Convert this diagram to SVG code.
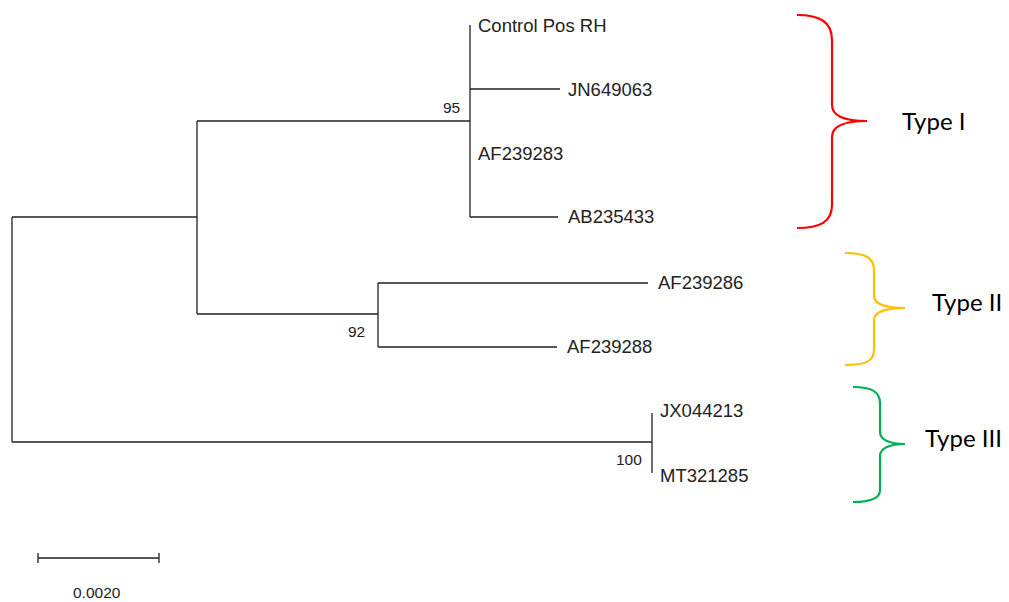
<svg xmlns="http://www.w3.org/2000/svg" width="1009" height="602" viewBox="0 0 1009 602">
<style>
.br{fill:none;stroke:#222;stroke-width:1.3}
.lb{font-family:"Liberation Sans",Arial,sans-serif;font-size:18.5px;fill:#222}
.bs{font-family:"Liberation Sans",Arial,sans-serif;font-size:15.5px;fill:#222}
.brace{fill:none;stroke-width:2.2}
.ty{font-family:Lato,"Open Sans",sans-serif;font-size:24px;fill:#000}
</style>
<rect width="1009" height="602" fill="#fff"/>
<g id="connectors">
<path class="br" d="M12,217 V442 M12,217 H197 M12,442 H652 M197,121 V314 M197,121 H470 M197,314 H378 M470,25 V217 M470,89 H560 M470,217 H558 M378,283 V347 M378,283 H648 M378,347 H557 M652,413 V473"/>
</g>
<g id="n-control"><text class="lb" x="478" y="32">Control Pos RH</text></g>
<g id="n-jn649063"><text class="lb" x="568" y="96">JN649063</text></g>
<g id="n-af239283"><text class="lb" x="478" y="160">AF239283</text></g>
<g id="n-ab235433"><text class="lb" x="568" y="223">AB235433</text></g>
<g id="n-af239286"><text class="lb" x="658" y="289">AF239286</text></g>
<g id="n-af239288"><text class="lb" x="567" y="353">AF239288</text></g>
<g id="n-jx044213"><text class="lb" x="660" y="417">JX044213</text></g>
<g id="n-mt321285"><text class="lb" x="660" y="482">MT321285</text></g>
<g id="bootstrap">
<text class="bs" x="443" y="113">95</text>
<text class="bs" x="348" y="337">92</text>
<text class="bs" x="616" y="465">100</text>
</g>
<g id="scalebar">
<path class="br" d="M38,558 H159 M38,553 V563 M159,553 V563"/>
<text class="bs" x="73" y="598">0.0020</text>
</g>
<g id="type1">
<path class="brace" stroke="#ff0000" d="M797,15 C820,15 832,22 832,40 L832,105 C832,116 845,121 867,121 C845,121 832,126 832,137 L832,205 C832,222 820,228 797,228"/>
<text class="ty" x="902" y="130">Type I</text>
</g>
<g id="type2">
<path class="brace" stroke="#ffc000" d="M845,253 C866,253 874,258 874,270 L874,296 C874,304 886,308 905,308 C886,308 874,312 874,320 L874,350 C874,361 866,365 845,365"/>
<text class="ty" x="932" y="311">Type II</text>
</g>
<g id="type3">
<path class="brace" stroke="#00b050" d="M853,387 C872,387 880,392 880,403 L880,432 C880,440 890,444 905,444 C890,444 880,448 880,456 L880,490 C880,498 872,502 853,502"/>
<text class="ty" x="925" y="447">Type III</text>
</g>
</svg>
